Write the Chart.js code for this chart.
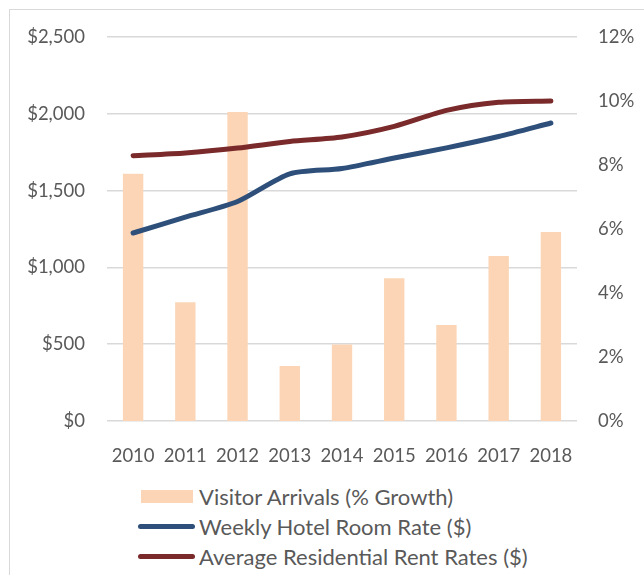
<!DOCTYPE html>
<html>
<head>
<meta charset="utf-8">
<script src="https://cdn.jsdelivr.net/npm/chart.js@4"></script>
<style>
  body { margin: 0; background: #fff; font-family: Lato, "Open Sans", sans-serif; }
  #frame { position: absolute; left: 9px; top: 9px; width: 650px; height: 580px;
           border-left: 1px solid #d9d9d9; border-top: 1px solid #d9d9d9; }
  #wrap { position: absolute; left: 0; top: 0; width: 644px; height: 470px; }
  #legend { position: absolute; left: 138px; top: 481px; color: #595959; font-size: 22px; }
  .row { height: 30px; display: flex; align-items: center; white-space: nowrap; }
  .sym { width: 57px; margin-right: 4px; display: flex; justify-content: center; }
  .box { width: 52px; height: 13px; background: #fbd5b5; }
  .ln { width: 57px; height: 5px; border-radius: 3px; }
</style>
</head>
<body>
<div id="frame"></div>
<div id="wrap"><canvas id="chart"></canvas></div>
<div id="legend">
  <div class="row"><div class="sym"><div class="box"></div></div>Visitor Arrivals (% Growth)</div>
  <div class="row"><div class="sym"><div class="ln" style="background:#2e4f7a"></div></div>Weekly Hotel Room Rate ($)</div>
  <div class="row"><div class="sym"><div class="ln" style="background:#7a2a2a"></div></div>Average Residential Rent Rates ($)</div>
</div>
<script>
var years = ["2010", "2011", "2012", "2013", "2014", "2015", "2016", "2017", "2018"]
var visitorGrowth = [7.73, 3.71, 9.66, 1.72, 2.39, 4.46, 3.0, 5.16, 5.91]
var hotelRate = [1224, 1327, 1429, 1609, 1644, 1712, 1778, 1852, 1940]
var rentRate = [1727, 1745, 1777, 1820, 1849, 1918, 2022, 2075, 2084]

var gridColor = "#d9d9d9"
var textColor = "#595959"
var tickFont = { family: "Lato, 'Open Sans', sans-serif", size: 18.5 }

var ctx = document.getElementById("chart");
var chart = new Chart(ctx, {
    type: 'bar',
    data: {
        labels: years,
        datasets: [
            {
                type: 'line',
                label: "Weekly Hotel Room Rate ($)",
                data: hotelRate,
                yAxisID: 'y',
                borderColor: "#2e4f7a",
                borderWidth: 5,
                borderCapStyle: 'round',
                pointRadius: 0,
                tension: 0.25,
                order: 1
            },
            {
                type: 'line',
                label: "Average Residential Rent Rates ($)",
                data: rentRate,
                yAxisID: 'y',
                borderColor: "#7a2a2a",
                borderWidth: 5,
                borderCapStyle: 'round',
                pointRadius: 0,
                tension: 0.25,
                order: 1
            },
            {
                label: "Visitor Arrivals (% Growth)",
                data: visitorGrowth,
                yAxisID: 'y1',
                backgroundColor: "#fbd5b5",
                barPercentage: 0.39,
                categoryPercentage: 1,
                order: 2
            }
        ]
    },
    options: {
        responsive: true,
        maintainAspectRatio: false,
        animation: false,
        layout: { padding: { top: 37, left: 0, right: 0, bottom: 0 } },
        plugins: { legend: { display: false }, tooltip: { enabled: false } },
        scales: {
            x: {
                grid: { display: false },
                border: { display: false },
                ticks: { color: textColor, font: tickFont, padding: 16, maxRotation: 0 },
                afterFit: function (s) { s.height = 49 }
            },
            y: {
                position: 'left',
                min: 0, max: 2500,
                ticks: {
                    stepSize: 500, color: textColor, font: tickFont, padding: 22,
                    callback: function (v) { return "$" + v.toLocaleString("en-US") }
                },
                grid: { color: gridColor, lineWidth: 1.5, drawTicks: false },
                border: { display: false },
                afterFit: function (s) { s.width = 107 }
            },
            y1: {
                position: 'right',
                min: 0, max: 12,
                ticks: {
                    stepSize: 2, color: textColor, font: tickFont, padding: 21,
                    callback: function (v) { return v + "%" }
                },
                grid: { display: false, drawTicks: false },
                border: { display: false },
                afterFit: function (s) { s.width = 67 }
            }
        }
    }
});
</script>
</body>
</html>
